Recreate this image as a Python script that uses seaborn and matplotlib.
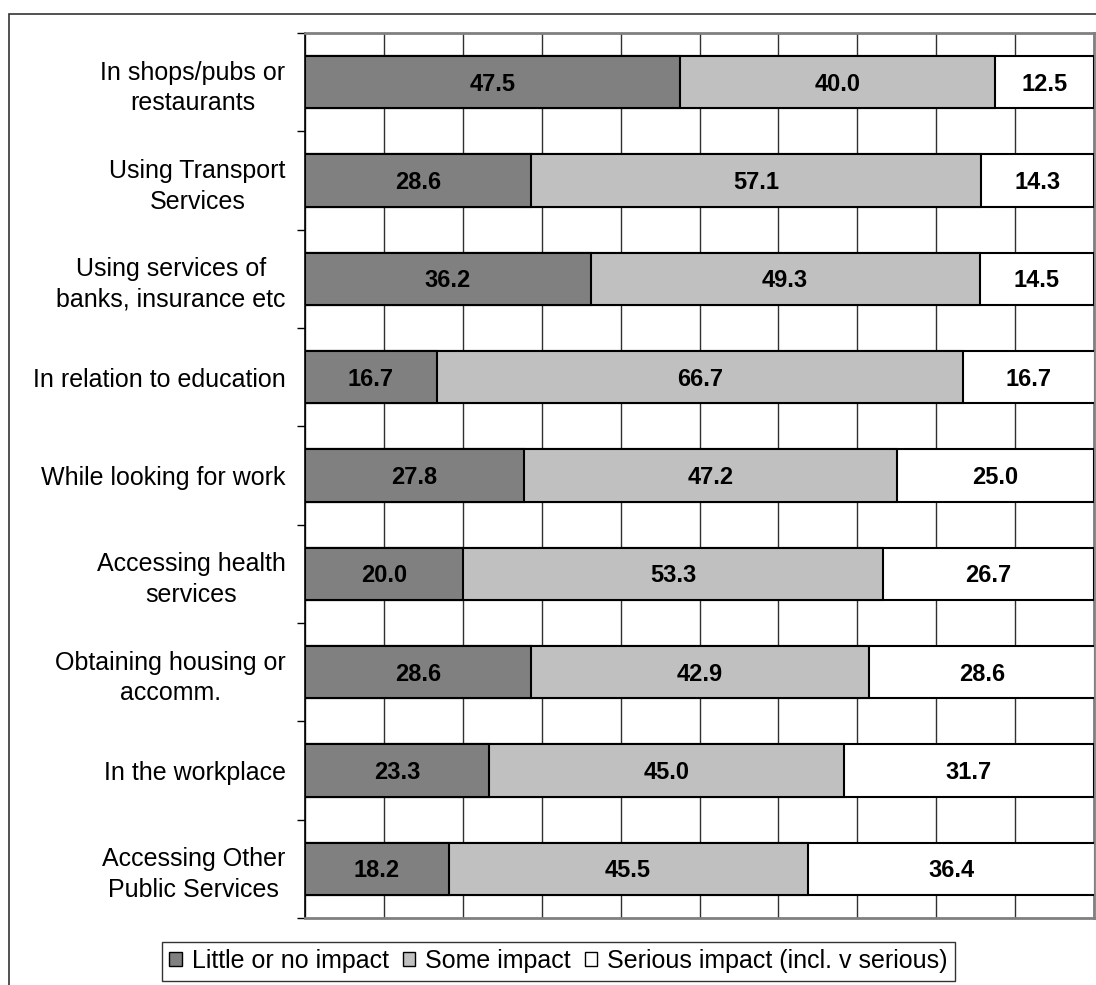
import pandas as pd
import matplotlib
matplotlib.use('Agg')
import matplotlib.pyplot as plt
import seaborn as sns
from matplotlib.patches import Patch, Rectangle
from matplotlib.ticker import MultipleLocator, FixedLocator

# values (top to bottom)
categories = ['In shops/pubs or\nrestaurants', 'Using Transport\nServices',
              'Using services of\nbanks, insurance etc', 'In relation to education',
              'While looking for work', 'Accessing health\nservices',
              'Obtaining housing or\naccomm.', 'In the workplace',
              'Accessing Other\nPublic Services']
little = [47.5, 28.6, 36.2, 16.7, 27.8, 20.0, 28.6, 23.3, 18.2]
some = [40.0, 57.1, 49.3, 66.7, 47.2, 53.3, 42.9, 45.0, 45.5]
serious = [12.5, 14.3, 14.5, 16.7, 25.0, 26.7, 28.6, 31.7, 36.4]
series_names = ['Little or no impact', 'Some impact', 'Serious impact (incl. v serious)']
colors = ['#808080', '#C0C0C0', '#FFFFFF']

df = pd.DataFrame({'cat': categories, 'little': little, 'some': some, 'serious': serious})
df['c1'] = df['little']
df['c2'] = df['little'] + df['some']
df['c3'] = df['c2'] + df['serious']

sns.set_style('white')
plt.rcParams['font.family'] = ['Liberation Sans', 'DejaVu Sans']
plt.rcParams['text.color'] = 'black'
plt.rcParams['ytick.labelcolor'] = 'black'

fig = plt.figure(figsize=(10.96, 9.85), dpi=100)
ax = fig.add_axes([305/1096, 1 - 918/985, 789/1096, 885/985])

# stacked bars: draw cumulative totals from the back to the front
for col, c in zip(['c3', 'c2', 'c1'], colors[::-1]):
    sns.barplot(data=df, x=col, y='cat', orient='h', color=c, width=0.53,
                edgecolor='black', linewidth=1.5, saturation=1, ax=ax, zorder=3)

for i, row in df.iterrows():
    starts = [0, row['c1'], row['c2']]
    for s, v in zip(starts, [row['little'], row['some'], row['serious']]):
        ax.text(s + v / 2, i + 0.02, f'{v:.1f}', ha='center', va='center',
                fontsize=17, fontweight='bold', color='black', zorder=5)

ax.set_xlim(0, 100)
ax.set_ylim(len(categories) - 0.5, -0.5)
ax.xaxis.set_major_locator(MultipleLocator(10))
ax.grid(axis='x', color='#303030', linewidth=1, zorder=0)
ax.set_axisbelow(True)
ax.set_xticklabels([])
ax.tick_params(axis='x', length=0)
ax.set_xlabel('')
ax.set_ylabel('')

ax.yaxis.set_minor_locator(FixedLocator([i - 0.5 for i in range(len(categories) + 1)]))
ax.tick_params(axis='y', which='major', length=0, pad=14, labelsize=18, labelcolor='black')
ax.tick_params(axis='y', which='minor', left=True, length=6, width=1, color='black')
for lab in ax.get_yticklabels():
    lab.set_multialignment('center')
    lab.set_linespacing(1.35)

for side in ['top', 'right', 'bottom']:
    ax.spines[side].set_color('#808080')
    ax.spines[side].set_linewidth(2)
ax.spines['left'].set_color('black')
ax.spines['left'].set_linewidth(1.2)

handles = [Patch(facecolor=c, edgecolor='black', linewidth=1) for c in colors]
leg = fig.legend(handles, series_names, loc='center', bbox_to_anchor=(558.5/1096, 1 - 961/985),
                 ncol=3, fontsize=18, frameon=True, fancybox=False, handlelength=0.5,
                 handleheight=0.5, handletextpad=0.4, columnspacing=0.55, borderpad=0.3)
leg.get_frame().set_edgecolor('black')
leg.get_frame().set_linewidth(1)
for t in leg.get_texts():
    t.set_color('black')

# outer chart frame
fig.patches.append(Rectangle((9/1096, -0.2), 1.2, 1.2 - 14/985, transform=fig.transFigure,
                             fill=False, edgecolor='#333333', linewidth=1.2))

plt.savefig('out.png', format='png')
